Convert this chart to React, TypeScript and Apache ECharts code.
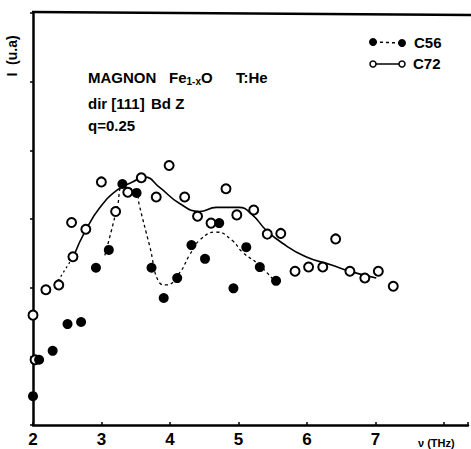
import React, { useEffect, useRef } from "react";
import * as echarts from "echarts";

// x: frequency (THz), y: intensity (arbitrary units)
const xTicks = [2, 3, 4, 5, 6, 7];

const c72Points: [number, number][] = [
  [2.0, 1.6], [2.03, 0.95], [2.188, 1.97], [2.376, 2.04], [2.583, 2.45], [2.563, 2.95],
  [2.771, 2.85], [2.998, 3.54], [3.206, 3.11], [3.384, 3.39], [3.581, 3.6], [3.799, 3.32],
  [3.987, 3.78], [4.214, 3.32], [4.402, 3.04], [4.599, 2.94], [4.817, 3.44], [4.975, 3.06],
  [5.222, 3.13], [5.42, 2.78], [5.617, 2.79], [5.825, 2.24], [6.023, 2.3], [6.23, 2.3],
  [6.418, 2.71], [6.626, 2.24], [6.844, 2.14], [7.041, 2.24], [7.259, 2.02],
];

const c56Points: [number, number][] = [
  [2.0, 0.42], [2.089, 0.95], [2.287, 1.08], [2.504, 1.47], [2.702, 1.5], [2.919, 2.29],
  [3.107, 2.55], [3.305, 3.51], [3.512, 3.38], [3.73, 2.29], [3.908, 1.85], [4.105, 2.14],
  [4.313, 2.62], [4.511, 2.42], [4.718, 2.94], [4.926, 1.99], [5.113, 2.59], [5.311, 2.3],
  [5.548, 2.1],
];

const c72Curve: [number, number][] = [
  [2.593, 2.46], [2.771, 2.84], [2.979, 3.17], [3.226, 3.42], [3.453, 3.54], [3.631, 3.61],
  [3.848, 3.46], [4.135, 3.23], [4.431, 3.11], [4.678, 3.17], [5.005, 3.17], [5.202, 3.06],
  [5.4, 2.84], [5.637, 2.65], [5.983, 2.45], [6.359, 2.33], [6.655, 2.23], [7.011, 2.14],
];

const c72Extension: [number, number][] = [[2.366, 2.1], [2.593, 2.46]];

const c56Curve: [number, number][] = [
  [3.048, 2.47], [3.147, 2.84], [3.236, 3.2], [3.305, 3.46], [3.512, 3.38], [3.552, 3.2],
  [3.7, 2.62], [3.848, 2.07], [3.947, 2.04], [4.135, 2.21], [4.283, 2.47], [4.431, 2.69],
  [4.678, 2.81], [4.906, 2.69], [5.054, 2.52], [5.301, 2.33], [5.548, 2.07],
];

const FONT = "'Liberation Sans', Arial, sans-serif";

export default function App() {
  const ref = useRef<HTMLDivElement>(null);
  useEffect(() => {
    if (!ref.current) return;
    const chart = echarts.init(ref.current, null, { renderer: "svg" });
    const ts = (text: string, fontSize: number) => ({
      text, fontSize, fontFamily: FONT, fontWeight: "bold" as const, fill: "#000", verticalAlign: "middle" as const,
    });
    chart.setOption({
      animation: false,
      backgroundColor: "#fff",
      grid: { left: 33, right: 1, top: 13, bottom: 24, containLabel: false },
      xAxis: {
        type: "value",
        min: 2,
        max: 8.35,
        interval: 1,
        axisLine: { lineStyle: { color: "#000", width: 2.5 } },
        axisTick: { inside: true, length: 3, lineStyle: { color: "#000", width: 1.5 } },
        splitLine: { show: false },
        axisLabel: {
          color: "#000",
          fontFamily: FONT,
          fontWeight: "bold",
          fontSize: 17,
          margin: 6,
          formatter: (v: number) => (xTicks.includes(v) ? String(v) : ""),
        },
      },
      yAxis: {
        type: "value",
        min: 0,
        max: 6,
        interval: 1,
        axisLine: { show: true, lineStyle: { color: "#000", width: 2.5 } },
        axisTick: { show: true, inside: false, length: 3, lineStyle: { color: "#000", width: 1.5 } },
        splitLine: { show: false },
        axisLabel: { show: false },
      },
      graphic: [
        { type: "line", shape: { x1: 32, y1: 12, x2: 471, y2: 15 }, style: { stroke: "#000", lineWidth: 2.5 } },
        {
          type: "text", x: 12, y: 56, rotation: Math.PI / 2,
          style: { ...ts("I  (u.a)", 14), align: "center" },
        },
        { type: "text", x: 88, y: 77, style: ts("MAGNON", 15) },
        {
          type: "text", x: 169, y: 77,
          style: {
            ...ts("", 15),
            text: "{b|Fe}{s|1-x}{b|O}",
            rich: {
              b: { fontFamily: FONT, fontWeight: "bold", fontSize: 15, fill: "#000" },
              s: { fontFamily: FONT, fontWeight: "bold", fontSize: 10, fill: "#000", padding: [8, 0, 0, 0] },
            },
          },
        },
        { type: "text", x: 236, y: 77, style: ts("T:He", 15) },
        { type: "text", x: 88, y: 103, style: ts("dir [111]", 15) },
        { type: "text", x: 151, y: 103, style: ts("Bd Z", 15) },
        { type: "text", x: 88, y: 125, style: ts("q=0.25", 15) },
        // legend
        { type: "line", shape: { x1: 374, y1: 42, x2: 402, y2: 43 }, style: { stroke: "#000", lineWidth: 1.5, lineDash: [3, 3] } },
        { type: "circle", shape: { cx: 373, cy: 42, r: 4 }, style: { fill: "#000" } },
        { type: "circle", shape: { cx: 402, cy: 43, r: 4 }, style: { fill: "#000" } },
        { type: "text", x: 414, y: 42, style: ts("C56", 15) },
        { type: "line", shape: { x1: 374, y1: 64, x2: 402, y2: 64 }, style: { stroke: "#000", lineWidth: 1.5 } },
        { type: "circle", shape: { cx: 373, cy: 64, r: 3 }, style: { fill: "#fff", stroke: "#000", lineWidth: 1.5 } },
        { type: "circle", shape: { cx: 402, cy: 64, r: 3 }, style: { fill: "#fff", stroke: "#000", lineWidth: 1.5 } },
        { type: "text", x: 413, y: 63, style: ts("C72", 15) },
        { type: "text", x: 418, y: 443, style: ts("ν (THz)", 11) },
      ],
      series: [
        {
          name: "C72 fit", type: "line", data: c72Curve, smooth: 0.5, showSymbol: false,
          lineStyle: { color: "#000", width: 1.6 }, silent: true, z: 1,
        },
        {
          name: "C72 ext", type: "line", data: c72Extension, showSymbol: false,
          lineStyle: { color: "#000", width: 1.2, type: [2, 3] }, silent: true, z: 1,
        },
        {
          name: "C56 fit", type: "line", data: c56Curve, smooth: 0.5, showSymbol: false,
          lineStyle: { color: "#000", width: 1.3, type: [3, 3] }, silent: true, z: 1,
        },
        {
          name: "C56", type: "scatter", data: c56Points, symbol: "circle", symbolSize: 10,
          itemStyle: { color: "#000", opacity: 1 }, z: 3,
        },
        {
          name: "C72", type: "scatter", data: c72Points, symbol: "circle", symbolSize: 9,
          itemStyle: { color: "#fff", borderColor: "#000", borderWidth: 2, opacity: 1 }, z: 2,
        },
      ],
    });
    return () => chart.dispose();
  }, []);
  return <div ref={ref} style={{ position: "fixed", left: 0, top: 0, width: 471, height: 449 }} />;
}
